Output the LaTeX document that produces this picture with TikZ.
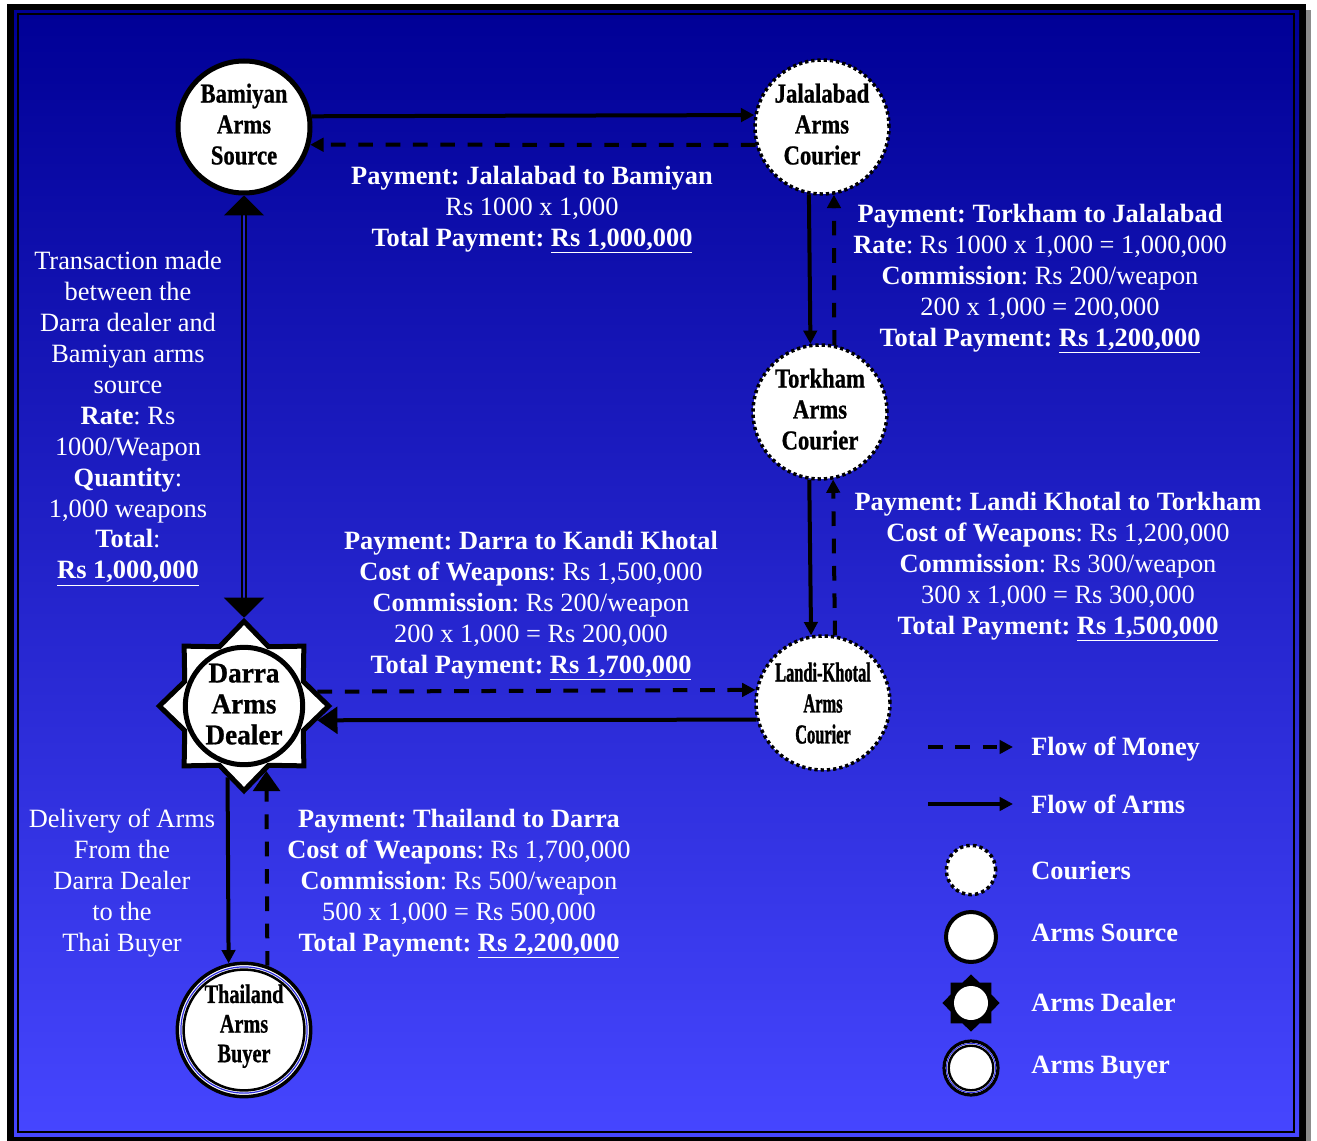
\documentclass[tikz,border=0pt]{standalone}
\usepackage{fontspec}
\setmainfont{Liberation Serif}
\newfontfamily\lblfont{Liberation Serif}[FakeStretch=0.83, BoldFeatures={FakeBold=0.8}]
\newfontfamily\buyerfont{Liberation Serif}[FakeStretch=0.76, BoldFeatures={FakeBold=0.8}]
\newfontfamily\narrowfont{Liberation Serif}[FakeStretch=0.6, BoldFeatures={FakeBold=1.2}]
\newfontfamily\darrafont{Liberation Serif}[FakeStretch=0.95, BoldFeatures={FakeBold=0.8}]
\usetikzlibrary{arrows.meta,shapes.geometric,calc}

\definecolor{bgtop}{RGB}{0,0,150}
\definecolor{bgmid}{RGB}{38,38,205}
\definecolor{bgbot}{RGB}{70,70,255}
\definecolor{ringblue}{RGB}{50,50,225}

\newcommand\infofont{\fontsize{19.8pt}{23.2pt}\selectfont}
\newcommand\lblsize{\lblfont\bfseries\fontsize{20.5pt}{23.2pt}\selectfont}
\newcommand\buyersize{\buyerfont\bfseries\fontsize{20pt}{22.2pt}\selectfont}
\newcommand\narrowsize{\narrowfont\bfseries\fontsize{20.5pt}{23.2pt}\selectfont}
\newcommand\darrasize{\darrafont\bfseries\fontsize{21.5pt}{23.2pt}\selectfont}

\tikzset{
  source/.style={circle, draw=black, line width=3.75pt, fill=white,
    minimum size=99pt, inner sep=0pt, text depth=4.5pt, align=center, font=\lblsize},
  courier/.style={circle, draw=black, line width=2.6pt,
    dash pattern=on 2.5pt off 2.2pt, fill=white, text depth=4.5pt,
    minimum size=100.5pt, inner sep=0pt, align=center, font=\lblsize},
  dealerstar/.style={star, star points=8, star point ratio=1.32,
    draw=black, line width=3.75pt, fill=white, minimum size=127pt, inner sep=0pt},
  dealer/.style={circle, draw=black, line width=3.75pt, fill=white, text depth=3pt,
    minimum size=88pt, inner sep=0pt, align=center, font=\darrasize},
  buyer/.style={circle, draw=black, line width=2.6pt, fill=white,
    minimum size=100pt, inner sep=0pt, align=center, font=\buyersize},
  info/.style={text=white, align=center, inner sep=0pt, anchor=north, font=\infofont},
  legendtext/.style={text=white, inner sep=0pt, anchor=base west, font=\infofont\bfseries},
  arms/.style={draw=black, line width=3pt, -{Triangle[length=10pt,width=10pt]}},
  money/.style={draw=black, line width=3pt, dash pattern=on 11pt off 9.5pt,
    -{Triangle[length=10pt,width=10pt]}},
  bighead/.style={-{Triangle[length=15pt,width=20pt]}},
}

\begin{document}
\frenchspacing
\begin{tikzpicture}[x=0.75pt,y=-0.75pt]
\useasboundingbox (0,0) rectangle (1317,1141);

% frame: shadow, black border, shaded panel, inner rule
\fill[black!45] (12,10) rectangle (1311,1141);
\fill[black] (7,4) rectangle (1306,1141);
\shade[top color=bgtop, middle color=bgmid, bottom color=bgbot] (14,11) rectangle (1299,1136);
\draw[black, line width=1.9pt] (18,14) rectangle (1294,1132);

% participants
\node[source] (bam) at (244,127) {Bamiyan\\Arms\\Source};
\node[courier] (jal) at (822,127) {Jalalabad\\Arms\\Courier};
\node[courier] (tor) at (820,412) {Torkham\\Arms\\Courier};
\node[courier, font=\narrowsize, text depth=0pt] (landi) at (823,703) {Landi-Khotal\\Arms\\Courier};
\node[dealerstar] (dstar) at (244,706) {};
\node[dealer] (darra) at (244,706) {Darra\\Arms\\Dealer};
\node[buyer, text depth=10pt] (thai) at (244,1030) {Thailand\\Arms\\Buyer};
\draw[ringblue, line width=0.9pt] (thai.center) circle (63.1);
\draw[black, line width=1.9pt] (thai.center) circle (60.4);

% flows between participants
\draw[arms] (bam.9.2) -- (jal.170.8);
\draw[money] (jal.195.2) -- (bam.-15.2);
\draw[arms] (jal.259.9) -- (tor.98.4);
\draw[money] (tor.78.2) -- (jal.280.1);
\draw[arms] (tor.261.6) -- (landi.100.9);
\draw[money] (landi.80.8) -- (tor.281.8);
\draw[money] (dstar.11.8) -- (landi.169.9);
\draw[arms, bighead] (landi.194.4) -- (dstar.-11);
\draw[black, line width=1.5pt, double=bgmid, double distance=2.2pt,
  {Triangle[length=15pt,width=30pt]}-{Triangle[length=15pt,width=30pt]}]
  (bam.south) -- (dstar.north);
\draw[arms] (dstar.257) -- (thai.103.5);
\draw[money, bighead] (thai.70.4) -- (dstar.289);

% payment notes
\node[info] (t1) at (532,166) {\textbf{Payment: Jalalabad to Bamiyan}\\
  Rs 1000 x 1,000\\
  \textbf{Total Payment: \underline{Rs 1,000,000}}};
\node[info] (t2) at (1040,204) {\textbf{Payment: Torkham to Jalalabad}\\
  \textbf{Rate}: Rs 1000 x 1,000 = 1,000,000\\
  \textbf{Commission}: Rs 200/weapon\\
  200 x 1,000 = 200,000\\
  \textbf{Total Payment: \underline{Rs 1,200,000}}};
\node[info] (t3) at (128,251) {Transaction made\\ between the\\ Darra dealer and\\
  Bamiyan arms\\ source\\ \textbf{Rate}: Rs\\ 1000/Weapon\\ \textbf{Quantity}:\\
  1,000 weapons\\ \textbf{Total}:\\ \textbf{\underline{Rs 1,000,000}}};
\node[info] (t4) at (531,531) {\textbf{Payment: Darra to Kandi Khotal}\\
  \textbf{Cost of Weapons}: Rs 1,500,000\\
  \textbf{Commission}: Rs 200/weapon\\
  200 x 1,000 = Rs 200,000\\
  \textbf{Total Payment: \underline{Rs 1,700,000}}};
\node[info] (t5) at (1058,492) {\textbf{Payment: Landi Khotal to Torkham}\\
  \textbf{Cost of Weapons}: Rs 1,200,000\\
  \textbf{Commission}: Rs 300/weapon\\
  300 x 1,000 = Rs 300,000\\
  \textbf{Total Payment: \underline{Rs 1,500,000}}};
\node[info] (t6) at (122,809) {Delivery of Arms\\ From the\\ Darra Dealer\\ to the\\ Thai Buyer};
\node[info] (t7) at (459,809) {\textbf{Payment: Thailand to Darra}\\
  \textbf{Cost of Weapons}: Rs 1,700,000\\
  \textbf{Commission}: Rs 500/weapon\\
  500 x 1,000 = Rs 500,000\\
  \textbf{Total Payment: \underline{Rs 2,200,000}}};

% legend
\coordinate (lm1) at (928,747);
\coordinate (lm2) at (1013,747);
\coordinate (la1) at (928,804);
\coordinate (la2) at (1013,804);
\draw[money] (lm1) -- (lm2);
\draw[arms] (la1) -- (la2);
\node[courier, minimum size=37pt, line width=2.6pt, dash pattern=on 2.6pt off 2.4pt] (lgcourier) at (971,870) {};
\node[source, minimum size=37.5pt, line width=3pt] (lgsource) at (971,937) {};
\node[star, star points=8, star point ratio=1.3, fill=black, minimum size=43pt, inner sep=0pt] (lgstar) at (971,1003) {};
\node[circle, fill=white, minimum size=25.5pt, inner sep=0pt] (lgdealer) at (971,1003) {};
\node[buyer, minimum size=40.5pt, line width=2.4pt] (lgbuyer) at (971,1068) {};
\draw[ringblue, line width=0.8pt] (lgbuyer.center) circle (24.6);
\draw[black, line width=1.8pt] (lgbuyer.center) circle (22.3);

\node[legendtext] (lt1) at (1031,755) {Flow of Money};
\node[legendtext] (lt2) at (1031,813) {Flow of Arms};
\node[legendtext] (lt3) at (1031,879) {Couriers};
\node[legendtext] (lt4) at (1031,941) {Arms Source};
\node[legendtext] (lt5) at (1031,1011) {Arms Dealer};
\node[legendtext] (lt6) at (1031,1073) {Arms Buyer};
\end{tikzpicture}
\end{document}
